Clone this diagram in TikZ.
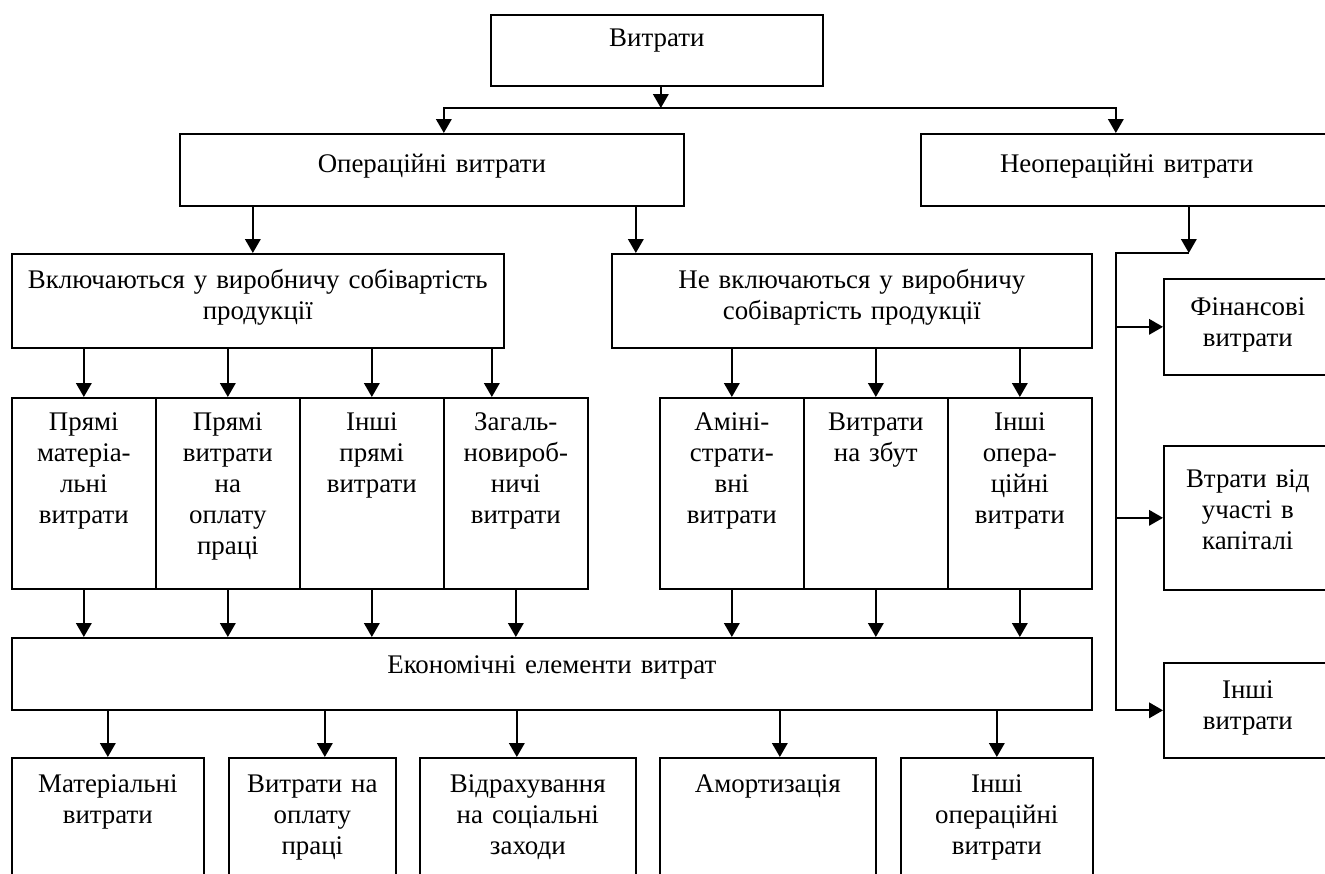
\documentclass[tikz,border=0pt]{standalone}
\usepackage{fontspec}
\setmainfont{Liberation Serif}
\usetikzlibrary{positioning,calc,arrows.meta}
\tikzset{font=\fontsize{15.3pt}{17.6pt}\selectfont}
\tikzset{
	box/.style n args={3}{draw, line width=0.95pt, anchor=north west, text width=#1, text height=#3, text depth=#2-#3},
	arr/.style={-{Triangle[length=0.28cm, width=0.31cm]}, line width=1.2pt},
}

\begin{document}
\begin{tikzpicture}
	\useasboundingbox (0,0) rectangle (26.5,-17.46);
	\clip (0,0) rectangle (26.5,-17.46);
	\begin{scope}
		\tikzstyle{every node}=[align=center, inner sep=0pt]
		\node[box={6.64cm}{1.42cm}{0.64cm}] (vyt) at (9.80,-0.28) {Витрати};
		\node[box={10.08cm}{1.44cm}{0.78cm}] (op) at (3.58,-2.66) {Операційні витрати};
		\node[box={8.24cm}{1.44cm}{0.78cm}] (nop) at (18.40,-2.66) {Неопераційні витрати};
		\coordinate (bus) at (0,-2.16);

		\node[box={9.84cm}{1.88cm}{0.70cm}] (vkl) at (0.22,-5.06) {Включаються у виробничу собівартість\\ продукції};
		\node[box={9.60cm}{1.88cm}{0.70cm}] (nvkl) at (12.22,-5.06) {Не включаються у виробничу\\ собівартість продукції};

		\node[box={2.88cm}{3.82cm}{0.66cm}] (pm) at (0.22,-7.94) {Прямі\\ матеріа-\\ льні\\ витрати};
		\node[box={2.88cm}{3.82cm}{0.66cm}] (pv) at (3.10,-7.94) {Прямі\\ витрати\\ на\\ оплату\\ праці};
		\node[box={2.88cm}{3.82cm}{0.66cm}] (ip) at (5.98,-7.94) {Інші\\ прямі\\ витрати};
		\node[box={2.88cm}{3.82cm}{0.66cm}] (zv) at (8.86,-7.94) {Загаль-\\ новироб-\\ ничі\\ витрати};
		\node[box={2.88cm}{3.82cm}{0.66cm}] (adm) at (13.18,-7.94) {Аміні-\\ страти-\\ вні\\ витрати};
		\node[box={2.88cm}{3.82cm}{0.66cm}] (zb) at (16.06,-7.94) {Витрати\\ на збут};
		\node[box={2.88cm}{3.82cm}{0.66cm}] (io) at (18.94,-7.94) {Інші\\ опера-\\ ційні\\ витрати};

		\node[box={21.60cm}{1.44cm}{0.72cm}] (ekon) at (0.22,-12.74) {Економічні елементи витрат};

		\node[box={3.84cm}{2.86cm}{0.70cm}] (mat) at (0.22,-15.14) {Матеріальні\\ витрати};
		\node[box={3.34cm}{2.86cm}{0.70cm}] (vop) at (4.56,-15.14) {Витрати на\\ оплату\\ праці};
		\node[box={4.32cm}{2.86cm}{0.70cm}] (vidr) at (8.38,-15.14) {Відрахування\\ на соціальні\\ заходи};
		\node[box={4.32cm}{2.86cm}{0.70cm}] (amort) at (13.18,-15.14) {Амортизація};
		\node[box={3.84cm}{2.86cm}{0.70cm}] (inop) at (18.00,-15.14) {Інші\\ операційні\\ витрати};

		\node[box={3.36cm}{1.92cm}{0.74cm}] (fin) at (23.26,-5.56) {Фінансові\\ витрати};
		\node[box={3.36cm}{2.88cm}{0.84cm}] (vtr) at (23.26,-8.90) {Втрати від\\ участі в\\ капіталі};
		\node[box={3.36cm}{1.90cm}{0.72cm}] (ini) at (23.26,-13.24) {Інші\\ витрати};
		\coordinate (rj) at (22.32,-5.06);

		\draw[arr] ([xshift=0.08cm]vyt.south) -- ([xshift=0.08cm]vyt.south |- bus);
		\draw[arr] ([xshift=0.08cm]vyt.south |- bus) -| ([xshift=0.24cm]op.north);
		\draw[arr] ([xshift=0.08cm]vyt.south |- bus) -| ([xshift=-0.22cm]nop.north);

		\draw[arr] ([xshift=-0.10cm]vkl.north |- op.south) -- ([xshift=-0.10cm]vkl.north);
		\draw[arr] ([xshift=-4.32cm]nvkl.north |- op.south) -- ([xshift=-4.32cm]nvkl.north);

		\draw[arr] (pm.north |- vkl.south) -- (pm.north);
		\draw[arr] (pv.north |- vkl.south) -- (pv.north);
		\draw[arr] (ip.north |- vkl.south) -- (ip.north);
		\draw[arr] ([xshift=-0.48cm]zv.north |- vkl.south) -- ([xshift=-0.48cm]zv.north);
		\draw[arr] (adm.north |- nvkl.south) -- (adm.north);
		\draw[arr] (zb.north |- nvkl.south) -- (zb.north);
		\draw[arr] (io.north |- nvkl.south) -- (io.north);

		\draw[arr] (pm.south) -- (pm.south |- ekon.north);
		\draw[arr] (pv.south) -- (pv.south |- ekon.north);
		\draw[arr] (ip.south) -- (ip.south |- ekon.north);
		\draw[arr] (zv.south) -- (zv.south |- ekon.north);
		\draw[arr] (adm.south) -- (adm.south |- ekon.north);
		\draw[arr] (zb.south) -- (zb.south |- ekon.north);
		\draw[arr] (io.south) -- (io.south |- ekon.north);

		\draw[arr] (mat.north |- ekon.south) -- (mat.north);
		\draw[arr] ([xshift=0.25cm]vop.north |- ekon.south) -- ([xshift=0.25cm]vop.north);
		\draw[arr] ([xshift=-0.22cm]vidr.north |- ekon.south) -- ([xshift=-0.22cm]vidr.north);
		\draw[arr] ([xshift=0.24cm]amort.north |- ekon.south) -- ([xshift=0.24cm]amort.north);
		\draw[arr] (inop.north |- ekon.south) -- (inop.north);

		\draw[arr] ([xshift=1.24cm]nop.south) -- ([xshift=1.24cm]nop.south |- rj);
		\draw[arr] ([xshift=1.24cm]nop.south |- rj) -- (rj) |- (ini.west);
		\draw[arr] (rj |- fin.west) -- (fin.west);
		\draw[arr] (rj |- vtr.west) -- (vtr.west);
	\end{scope}
\end{tikzpicture}
\end{document}
